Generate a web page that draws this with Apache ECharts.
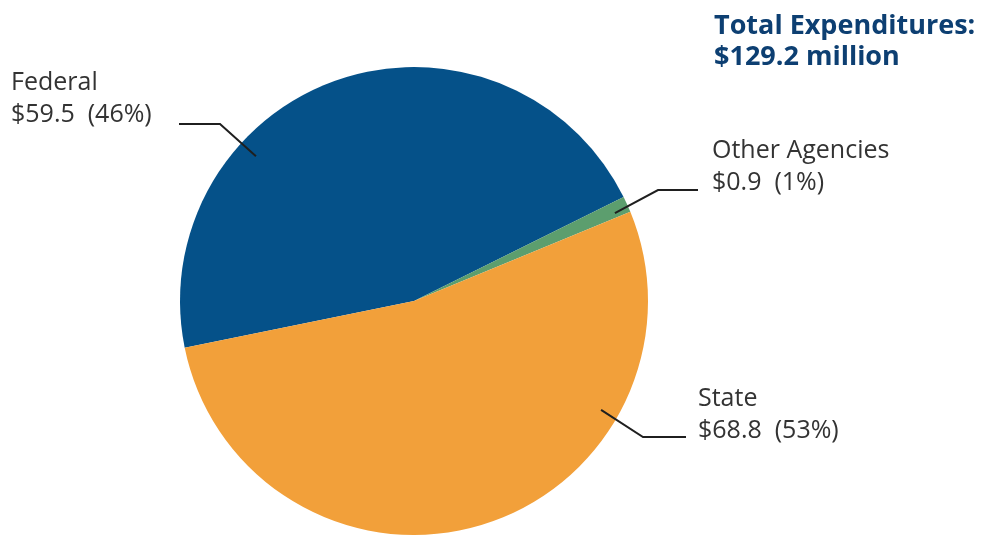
<!DOCTYPE html>
<html>
<head>
<meta charset="utf-8">
<script src="https://cdn.jsdelivr.net/npm/echarts@6/dist/echarts.min.js"></script>
<style>
html,body{margin:0;padding:0;background:#fff;}
#main{width:985px;height:537px;}
</style>
</head>
<body>
<div id="main"></div>
<script>
// ---- data ----
var categories = ["Federal", "Other Agencies", "State"];
var values = [59.5, 0.9, 68.8];
var percentLabels = ["46%", "1%", "53%"];
var totalLabel = ["Total Expenditures:", "$129.2 million"];

// ---- style ----
var colors = ["#055189", "#5c9e6e", "#f2a03a"];
var labelFont = "Open Sans";

var chart = echarts.init(document.getElementById("main"), null, {renderer: "canvas"});

var cx = 414, cy = 301, R = 234;
// label placement (left/top of text block) and leader-line geometry (layout only)
var labelPos = [
  {x: 11, y: 67},
  {x: 712, y: 135},
  {x: 698, y: 383}
];
function leader(i) {
  var defs = [
    {a: 137.5, r: 0.916, kx: 220, ky: 124, ex: 179},
    {a: 23.6, r: 0.937, kx: 658, ky: 190, ex: 698},
    {a: -30.2, r: 0.925, kx: 643, ky: 437, ex: 686}
  ];
  var d = defs[i];
  var rad = d.a * Math.PI / 180;
  var sx = cx + R * d.r * Math.cos(rad);
  var sy = cy - R * d.r * Math.sin(rad);
  return [[sx, sy], [d.kx, d.ky], [d.ex, d.ky]];
}

var seriesData = categories.map(function (c, i) {
  return {name: c, value: values[i], itemStyle: {color: colors[i]}};
});
var overlayData = categories.map(function (c, i) {
  return {name: c, value: values[i], itemStyle: {color: "rgba(0,0,0,0)"}};
});

var pieBase = {
  type: "pie",
  center: [cx, cy],
  radius: R,
  startAngle: 191.5,
  clockwise: true,
  minAngle: 4,
  avoidLabelOverlap: false,
  emphasis: {disabled: true},
  silent: true
};

chart.setOption({
  backgroundColor: "#ffffff",
  animation: false,
  title: {
    text: totalLabel.join("\n"),
    left: 709,
    top: 6,
    textStyle: {
      fontFamily: "Open Sans",
      fontWeight: "bold",
      fontSize: 27,
      lineHeight: 31,
      color: "#0d3f72"
    }
  },
  series: [
    Object.assign({}, pieBase, {
      z: 2,
      data: seriesData,
      itemStyle: {borderWidth: 0},
      label: {show: false},
      labelLine: {show: false}
    }),
    Object.assign({}, pieBase, {
      z: 5,
      data: overlayData,
      itemStyle: {borderWidth: 0},
      label: {
        show: true,
        position: "outside",
        formatter: function (p) {
          return p.name + "\n$" + values[p.dataIndex].toFixed(1) + "  (" + percentLabels[p.dataIndex] + ")";
        },
        fontFamily: labelFont,
        fontWeight: 400,
        fontSize: 25,
        lineHeight: 32,
        color: "#333333",
        align: "left"
      },
      labelLine: {
        show: true,
        lineStyle: {color: "#1f1f1f", width: 2}
      },
      labelLayout: function (params) {
        var i = params.dataIndex;
        return {
          x: labelPos[i].x,
          y: labelPos[i].y,
          align: "left",
          verticalAlign: "top",
          labelLinePoints: leader(i)
        };
      }
    })
  ]
});
</script>
</body>
</html>
